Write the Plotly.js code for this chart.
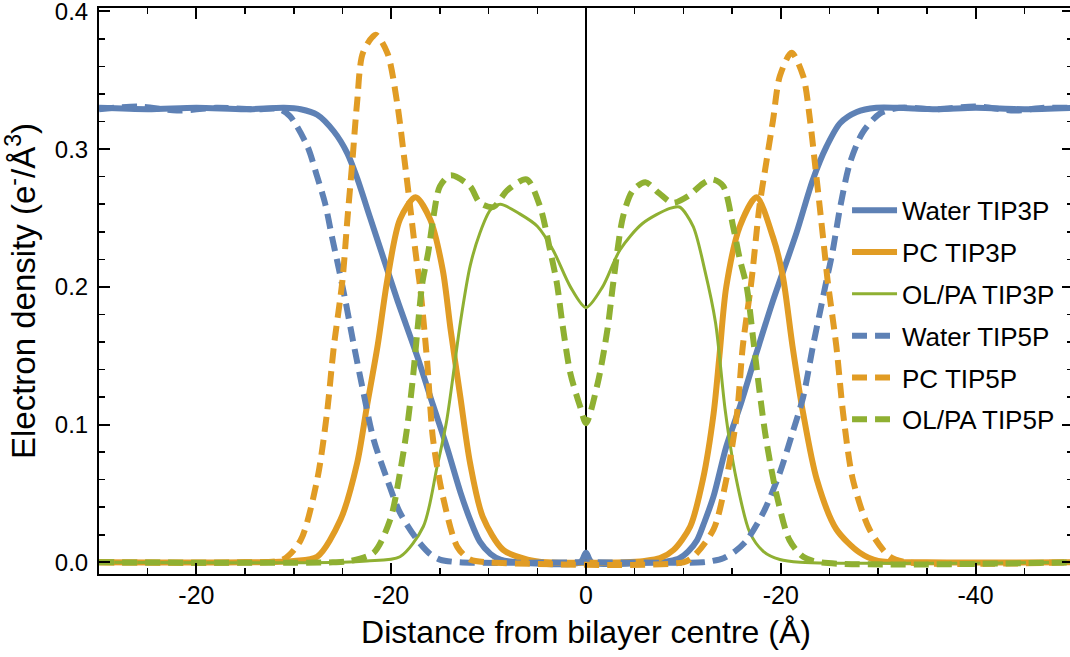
<!DOCTYPE html>
<html>
<head>
<meta charset="utf-8">
<script src="https://cdn.plot.ly/plotly-3.0.1.min.js"></script>
<style>
  html, body { margin: 0; padding: 0; overflow: hidden; background: #fff; }
  #chart { width: 1080px; height: 657px; }
</style>
</head>
<body>
<div id="chart"></div>
<script>
// Electron density profiles across a lipid bilayer (TIP3P vs TIP5P water models)

const waterTip3pX = [-50, -45, -40, -35, -31, -29.3, -27.6, -25.9, -24.5, -23.5, -22.2, -20.8, -19.4, -17.3, -15.7, -14.3, -12.9, -11.9, -10.9, -9.8, -8.8, -7, -0.6, 0, 0.6, 7, 8.6, 9.6, 10.5, 11.4, 12.2, 13.1, 14.4, 15.8, 17.5, 19.2, 21.6, 23.3, 24.7, 26.1, 27.8, 29.8, 32, 36, 40, 45, 50];
const waterTip3pY = [0.330, 0.329, 0.330, 0.329, 0.330, 0.329, 0.325, 0.313, 0.297, 0.279, 0.251, 0.221, 0.191, 0.149, 0.114, 0.084, 0.051, 0.031, 0.015, 0.006, 0.002, 0, 0, 0.007, 0, 0, 0.001, 0.003, 0.008, 0.016, 0.030, 0.048, 0.084, 0.113, 0.152, 0.190, 0.239, 0.278, 0.302, 0.319, 0.327, 0.330, 0.330, 0.329, 0.330, 0.329, 0.330];

const pcTip3pX = [-50, -35, -30, -27.6, -25.2, -23.5, -22.5, -21.4, -20.4, -19.1, -17.5, -16.0, -14.7, -13.9, -12.9, -11.9, -10.6, -8.5, -6, -4, 4, 6, 7.6, 9, 10.7, 12, 13.1, 13.7, 14.4, 15.8, 17.5, 19.2, 20.2, 21.2, 22.3, 23.7, 25.7, 28.1, 30, 35, 50];
const pcTip3pY = [0, 0, 0.001, 0.004, 0.031, 0.072, 0.113, 0.157, 0.205, 0.249, 0.265, 0.249, 0.212, 0.169, 0.120, 0.072, 0.033, 0.009, 0.002, 0, 0, 0.001, 0.003, 0.009, 0.026, 0.060, 0.108, 0.150, 0.200, 0.244, 0.265, 0.236, 0.208, 0.157, 0.108, 0.060, 0.024, 0.007, 0.001, 0, 0];

const olpaTip3pX = [-50, -25, -22.5, -19.1, -16.7, -15.3, -14.3, -12.9, -11.9, -10.9, -9.8, -8.8, -6.8, -5.0, -3.4, -1.6, 0, 1.7, 3.5, 5.8, 8.6, 9.6, 11, 12.2, 13.3, 14.3, 15.3, 16.8, 18.2, 19.9, 22, 50];
const olpaTip3pY = [0, 0, 0.001, 0.004, 0.026, 0.069, 0.103, 0.174, 0.215, 0.239, 0.256, 0.260, 0.253, 0.244, 0.227, 0.200, 0.185, 0.200, 0.227, 0.246, 0.257, 0.258, 0.244, 0.212, 0.174, 0.110, 0.065, 0.022, 0.008, 0.002, 0, 0];

const waterTip5pX = [-50, -46, -42, -38, -34, -31.5, -30.4, -28.6, -27.6, -26.8, -26.1, -25.4, -24.7, -23.9, -22.9, -21.8, -20.4, -19.1, -17.3, -16, -15, -13, 0, 12, 13, 14.1, 15.3, 16.5, 18.2, 19.9, 21.2, 22.3, 23.3, 24, 24.7, 25.3, 26.1, 27.1, 28.4, 30.2, 32.2, 36, 40, 44, 47, 50];
const waterTip5pY = [0.329, 0.331, 0.328, 0.330, 0.329, 0.329, 0.324, 0.302, 0.280, 0.261, 0.237, 0.214, 0.190, 0.160, 0.125, 0.089, 0.060, 0.036, 0.016, 0.006, 0.002, 0, 0, 0, 0.001, 0.003, 0.008, 0.016, 0.036, 0.065, 0.094, 0.120, 0.157, 0.181, 0.205, 0.225, 0.258, 0.290, 0.312, 0.326, 0.330, 0.329, 0.331, 0.328, 0.330, 0.330];

const pcTip5pX = [-50, -35, -31.1, -29.3, -27.6, -26.6, -25.9, -25.0, -24.5, -24.0, -23.5, -22.9, -21.6, -20.4, -19.4, -18.6, -18.1, -17.5, -17.0, -16.3, -15.7, -14.7, -13.2, -11.9, -10, 10, 11, 13.1, 14.4, 15.5, 16.1, 17.0, 17.8, 18.5, 19.2, 19.9, 21.1, 22.3, 23.0, 23.5, 24.0, 24.5, 24.8, 25.7, 26.4, 27.4, 29.1, 31.2, 33, 50];
const pcTip5pY = [0, 0, 0.002, 0.016, 0.060, 0.108, 0.156, 0.205, 0.249, 0.290, 0.334, 0.370, 0.383, 0.370, 0.334, 0.290, 0.261, 0.225, 0.198, 0.145, 0.089, 0.048, 0.011, 0.002, 0, 0, 0.004, 0.024, 0.060, 0.108, 0.157, 0.205, 0.258, 0.290, 0.321, 0.353, 0.370, 0.353, 0.321, 0.290, 0.258, 0.225, 0.205, 0.157, 0.108, 0.060, 0.024, 0.004, 0, 0];

const olpaTip5pX = [-50, -26, -24.2, -21.8, -20.1, -19.1, -18.4, -17.8, -17.3, -16.8, -16.2, -15.7, -15.0, -13.9, -11.9, -10.9, -9.5, -8.1, -6.1, -4.7, -3.7, -3.0, -2.4, -1.6, -0.6, 0, 1.2, 2.2, 2.8, 3.8, 4.8, 6.1, 7.5, 8.9, 10.5, 12.0, 13.0, 14.1, 15.1, 15.8, 16.5, 17.2, 17.8, 18.5, 19.6, 20.9, 22.3, 24, 50];
const olpaTip5pY = [0, 0, 0.001, 0.007, 0.031, 0.065, 0.096, 0.132, 0.169, 0.203, 0.225, 0.249, 0.273, 0.281, 0.273, 0.261, 0.258, 0.270, 0.278, 0.258, 0.227, 0.203, 0.172, 0.137, 0.113, 0.101, 0.130, 0.169, 0.203, 0.251, 0.270, 0.276, 0.268, 0.261, 0.266, 0.275, 0.278, 0.273, 0.244, 0.220, 0.200, 0.160, 0.125, 0.089, 0.048, 0.016, 0.004, 0, 0];

const seriesNames = ['Water TIP3P', 'PC TIP3P', 'OL/PA TIP3P', 'Water TIP5P', 'PC TIP5P', 'OL/PA TIP5P'];

const xTickVals = [-40, -20, 0, 20, 40];
const xTickText = ['-20', '-20', '0', '-20', '-40'];
const yTickVals = [0, 0.1, 0.2, 0.3, 0.4];

const BLUE = '#5E81B5', ORANGE = '#E19C24', GREEN = '#8FB032';
const DASH = '15px,8px';

function makeTrace(i, xs, ys, color, width, dash) {
  return {
    type: 'scatter', mode: 'lines', x: xs, y: ys, name: seriesNames[i],
    legendgroup: 'g' + i,
    line: { color: color, width: width, dash: dash, shape: 'spline', smoothing: 0.8 }
  };
}

const traces = [
  makeTrace(0, waterTip3pX, waterTip3pY, BLUE, 6, 'solid'),
  makeTrace(1, pcTip3pX, pcTip3pY, ORANGE, 6, 'solid'),
  makeTrace(2, olpaTip3pX, olpaTip3pY, GREEN, 3, 'solid'),
  makeTrace(3, waterTip5pX, waterTip5pY, BLUE, 6, DASH),
  makeTrace(4, pcTip5pX, pcTip5pY, ORANGE, 6, DASH),
  makeTrace(5, olpaTip5pX, olpaTip5pY, GREEN, 6, DASH)
];

const FONT = 'Liberation Sans, Arial, sans-serif';

const layout = {
  width: 1080, height: 657,
  margin: { l: 98.5, r: 6.5, t: 8, b: 83 },
  paper_bgcolor: '#fff', plot_bgcolor: '#fff',
  font: { family: FONT, color: '#000', size: 24 },
  showlegend: true,
  legend: {
    x: 0.768, y: 0.684, xanchor: 'left', yanchor: 'top',
    bgcolor: 'rgba(0,0,0,0)', borderwidth: 0,
    font: { family: FONT, size: 26, color: '#000' },
    traceorder: 'grouped', tracegroupgap: 5, itemwidth: 45
  },
  xaxis: {
    range: [-50, 50], showgrid: false,
    zeroline: true, zerolinecolor: '#000', zerolinewidth: 1.5,
    showline: true, linecolor: '#000', linewidth: 2, mirror: 'allticks',
    ticks: 'inside', ticklen: 11, tickwidth: 2, tickcolor: '#000',
    tickmode: 'array', tickvals: xTickVals, ticktext: xTickText,
    ticklabelstandoff: -2, ticklabeloverflow: 'allow',
    minor: { ticks: 'inside', ticklen: 6, tickwidth: 1.5, tickcolor: '#000', tickmode: 'linear', tick0: 0, dtick: 5, showgrid: false },
    tickfont: { family: FONT, size: 25 },
    title: { text: 'Distance from bilayer centre (Å)', font: { family: FONT, size: 32 }, standoff: 13 },
    automargin: false
  },
  yaxis: {
    range: [-0.0085, 0.4025], showgrid: false, zeroline: false,
    showline: true, linecolor: '#000', linewidth: 2, mirror: 'allticks',
    ticks: 'inside', ticklen: 11, tickwidth: 2, tickcolor: '#000',
    tickmode: 'array', tickvals: yTickVals, tickformat: '.1f',
    ticklabelstandoff: 4, ticklabeloverflow: 'allow',
    minor: { ticks: 'inside', ticklen: 6, tickwidth: 1.5, tickcolor: '#000', tickmode: 'linear', tick0: 0, dtick: 0.02, showgrid: false },
    tickfont: { family: FONT, size: 24 },
    title: { text: 'Electron density (e<sup>-</sup>/Å<sup>3</sup>)', font: { family: FONT, size: 33 }, standoff: 10 },
    automargin: false
  }
};

Plotly.newPlot('chart', traces, layout, { staticPlot: true, displayModeBar: false });
</script>
</body>
</html>
